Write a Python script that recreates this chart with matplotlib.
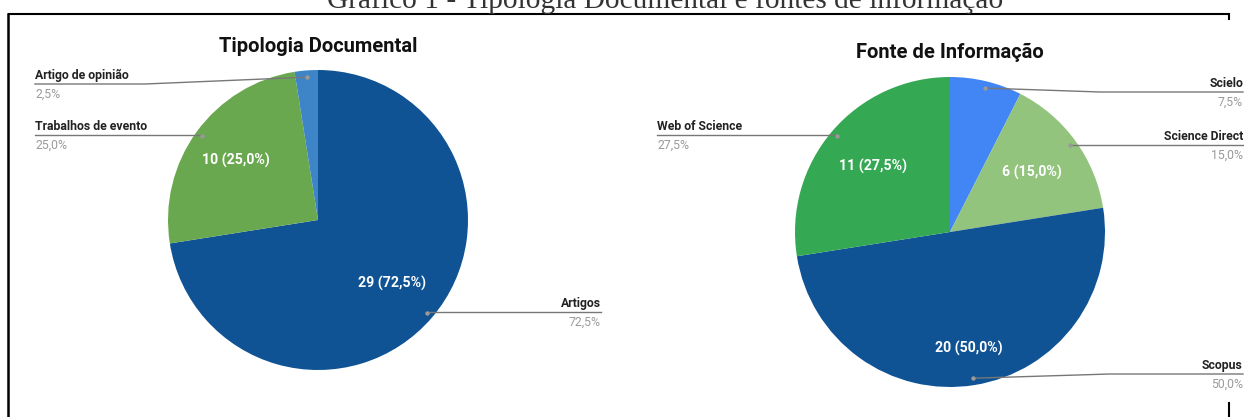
import numpy as np
import matplotlib.pyplot as plt

# dados
tipos = ["Artigos", "Trabalhos de evento", "Artigo de opinião"]
tipos_n = [29, 10, 1]
fontes = ["Scielo", "Science Direct", "Scopus", "Web of Science"]
fontes_n = [3, 6, 20, 11]

cores_tipo = ["#0f5394", "#6aa84f", "#3d85c6"]
cores_fonte = ["#4285f4", "#93c47d", "#0f5394", "#34a853"]

W, H = 1244, 417
sans = ["Roboto", "DejaVu Sans"]

fig = plt.figure(figsize=(W / 100, H / 100), dpi=100)


def pct_txt(v, tot):
    return f"{100 * v / tot:.1f}".replace(".", ",") + "%"


def pie(cx, cy, r, valores, cores, titulo, ty, dist_in):
    ax = fig.add_axes([(cx - r) / W, (H - cy - r) / H, 2 * r / W, 2 * r / H])
    ax.pie(valores, colors=cores, startangle=90, counterclock=False,
           wedgeprops=dict(linewidth=0))
    ax.set_xlim(-1, 1)
    ax.set_ylim(-1, 1)
    ax.axis("off")
    tot = sum(valores)
    fr = np.cumsum([0] + list(valores)) / tot
    meio = (fr[:-1] + fr[1:]) / 2 * 2 * np.pi
    # posicao em pixels
    dots = [(cx + 0.955 * r * np.sin(a), cy - 0.955 * r * np.cos(a)) for a in meio]
    ins = [(cx + d * r * np.sin(a), cy - d * r * np.cos(a)) for a, d in zip(meio, dist_in)]
    for (x, y), v in zip(ins, valores):
        if v / tot > 0.1:
            ov.text(x, y, f"{v} ({pct_txt(v, tot)})", color="white", fontsize=10.2,
                    fontweight="bold", ha="center", va="center", family=sans)
    ov.text(cx, ty, titulo, fontsize=14.5, fontweight="bold", ha="center",
            va="center", family=sans, color="#111111")
    return dots, tot


ov = fig.add_axes([0, 0, 1, 1], zorder=5)
ov.set_xlim(0, W)
ov.set_ylim(H, 0)
ov.axis("off")
ov.patch.set_alpha(0)


def rotulo(dot, nome, pct, side, xe, ly, xk=None):
    x0, y0 = dot
    if xk is None:
        xs, ys = [x0, xe], [ly, ly]
    else:
        xs, ys = [x0, xk, xe], [y0, ly, ly]
    ov.plot(xs, ys, color="#777777", lw=1)
    ov.plot([x0], [y0], "o", color="#999999", ms=3.2, mec="none")
    ha = "left" if side == "l" else "right"
    ov.text(xe, ly - 8.5, nome, fontsize=8.8, fontweight="bold", color="#222222",
            ha=ha, va="center", family=sans)
    ov.text(xe, ly + 10, pct, fontsize=8.8, color="#9a9a9a",
            ha=ha, va="center", family=sans)


d1, t1 = pie(318, 220, 150, tipos_n, cores_tipo, "Tipologia Documental", 46,
             [0.65, 0.68, 0.65])
rotulo(d1[0], tipos[0], pct_txt(tipos_n[0], t1), "r", 601, 312)
rotulo(d1[1], tipos[1], pct_txt(tipos_n[1], t1), "l", 35, 135)
rotulo(d1[2], tipos[2], pct_txt(tipos_n[2], t1), "l", 35, 84, xk=145)

d2, t2 = pie(950, 232, 155, fontes_n, cores_fonte, "Fonte de Informação", 52,
             [0.65, 0.65, 0.76, 0.65])
rotulo(d2[0], fontes[0], pct_txt(fontes_n[0], t2), "r", 1243, 92, xk=1100)
rotulo(d2[1], fontes[1], pct_txt(fontes_n[1], t2), "r", 1243, 145)
rotulo(d2[2], fontes[2], pct_txt(fontes_n[2], t2), "r", 1243, 374, xk=1110)
rotulo(d2[3], fontes[3], pct_txt(fontes_n[3], t2), "l", 657, 135)

# legenda do documento e moldura
ov.text(665, 8, "Gráfico 1 - Tipologia Documental e fontes de informação",
        family=["Liberation Serif", "DejaVu Serif"], fontsize=21.2, color="#333333",
        ha="center", va="baseline")
ov.plot([8, 1229], [13.5, 13.5], color="black", lw=1.5, solid_capstyle="butt")
ov.plot([8, 8], [13.5, H], color="black", lw=1.8)
ov.plot([1229, 1229], [13.5, 19], color="black", lw=1.5)
ov.plot([1229, 1229], [403, H], color="black", lw=1.5)

fig.savefig("out.png", dpi=100)
